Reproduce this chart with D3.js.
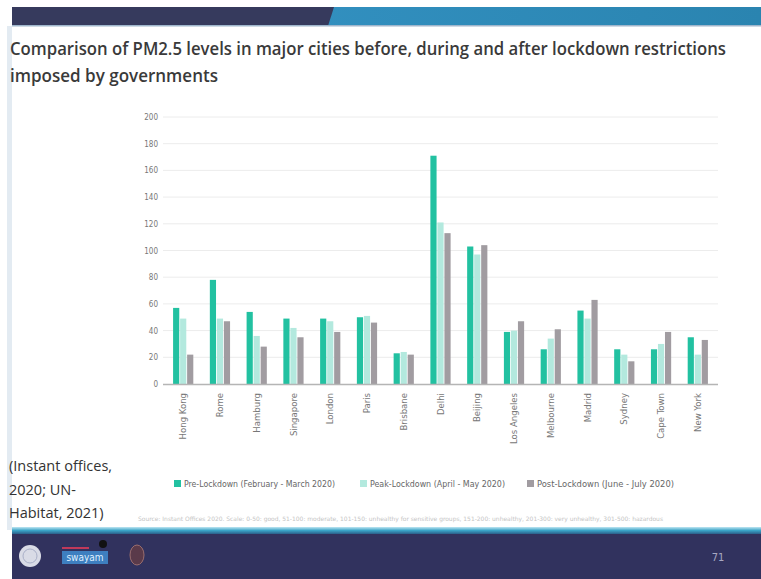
<!DOCTYPE html>
<html>
<head>
<meta charset="utf-8">
<script src="https://cdn.jsdelivr.net/npm/d3@7"></script>
<style>
  html, body { margin: 0; padding: 0; background: #fff; }
  svg { display: block; }
</style>
</head>
<body>
<svg id="chart"></svg>
<script>
(function (d3) {
  'use strict';

  // data
  const cities = ['Hong Kong', 'Rome', 'Hamburg', 'Singapore', 'London', 'Paris', 'Brisbane',
    'Delhi', 'Beijing', 'Los Angeles', 'Melbourne', 'Madrid', 'Sydney', 'Cape Town', 'New York'];
  const preLockdown  = [57, 78, 54, 49, 49, 50, 23, 171, 103, 39, 26, 55, 26, 26, 35];
  const peakLockdown = [49, 49, 36, 42, 47, 51, 24, 121, 97, 40, 34, 49, 22, 30, 22];
  const postLockdown = [22, 47, 28, 35, 39, 46, 22, 113, 104, 47, 41, 63, 17, 39, 33];
  const seriesNames = ['Pre-Lockdown (February - March 2020)', 'Peak-Lockdown (April - May 2020)',
    'Post-Lockdown (June - July 2020)'];
  const yTicks = [0, 20, 40, 60, 80, 100, 120, 140, 160, 180, 200];

  const colors = ['#22c1a1', '#b3e9de', '#a19ca1'];
  const seriesValues = [preLockdown, peakLockdown, postLockdown];

  const width = 761, height = 579;
  const svg = d3.select('#chart').attr('width', width).attr('height', height);
  const condensed = '"DejaVu Sans Condensed", "Liberation Sans Narrow", sans-serif';

  // slide frame
  const defs = svg.append('defs');
  const topGrad = defs.append('linearGradient').attr('id', 'topGrad');
  topGrad.append('stop').attr('offset', '0%').attr('stop-color', '#3797c9');
  topGrad.append('stop').attr('offset', '100%').attr('stop-color', '#2a84b0');
  const lineGrad = defs.append('linearGradient').attr('id', 'lineGrad')
    .attr('x1', 0).attr('y1', 0).attr('x2', 0).attr('y2', 1);
  lineGrad.append('stop').attr('offset', '0%').attr('stop-color', '#bfe6f2');
  lineGrad.append('stop').attr('offset', '50%').attr('stop-color', '#3aa3c7');
  lineGrad.append('stop').attr('offset', '100%').attr('stop-color', '#2b5f8a');

  svg.append('rect').attr('x', 7).attr('y', 26).attr('width', 5).attr('height', 504).attr('fill', '#e3ebf2');
  svg.append('rect').attr('x', 12).attr('y', 7).attr('width', width - 12).attr('height', 19).attr('fill', 'url(#topGrad)');
  svg.append('path').attr('d', 'M12,7 L334,7 L328,26 L12,26 Z').attr('fill', '#363a5d');
  svg.append('rect').attr('x', 12).attr('y', 25).attr('width', width - 12).attr('height', 1.5).attr('fill', '#9fb6cc');

  svg.append('rect').attr('x', 12).attr('y', 527).attr('width', width - 12).attr('height', 7).attr('fill', 'url(#lineGrad)');
  svg.append('rect').attr('x', 12).attr('y', 534).attr('width', width - 12).attr('height', 45).attr('fill', '#31325e');

  // logos (simple marks)
  svg.append('circle').attr('cx', 30).attr('cy', 556).attr('r', 11).attr('fill', '#d9dbe6');
  svg.append('circle').attr('cx', 30).attr('cy', 556).attr('r', 7).attr('fill', 'none').attr('stroke', '#aab0c8');
  svg.append('rect').attr('x', 62).attr('y', 547).attr('width', 27).attr('height', 2).attr('fill', '#c0395a');
  svg.append('circle').attr('cx', 103).attr('cy', 544).attr('r', 4).attr('fill', '#111');
  svg.append('rect').attr('x', 62).attr('y', 551).attr('width', 46).attr('height', 13).attr('fill', '#3e7fc0');
  svg.append('text').attr('x', 85).attr('y', 561).attr('text-anchor', 'middle')
    .attr('font-family', condensed).attr('font-size', 10).attr('fill', '#dfefff').text('swayam');
  svg.append('ellipse').attr('cx', 137).attr('cy', 555).attr('rx', 7).attr('ry', 10)
    .attr('fill', '#5a3a4a').attr('stroke', '#9b6e6e');
  svg.append('text').attr('x', 718).attr('y', 561).attr('text-anchor', 'middle')
    .attr('font-family', condensed).attr('font-size', 11).attr('fill', '#a8a9c2').text('71');

  // title
  const titleFont = '"Open Sans", sans-serif';
  svg.append('text').attr('x', 10).attr('y', 55)
    .attr('font-family', titleFont).attr('font-weight', 600).attr('font-size', 17.5)
    .attr('fill', '#3a3a3a').attr('textLength', 716).attr('lengthAdjust', 'spacingAndGlyphs')
    .text('Comparison of PM2.5 levels in major cities before, during and after lockdown restrictions');
  svg.append('text').attr('x', 10).attr('y', 82)
    .attr('font-family', titleFont).attr('font-weight', 600).attr('font-size', 17.5)
    .attr('fill', '#3a3a3a').attr('textLength', 208).attr('lengthAdjust', 'spacingAndGlyphs')
    .text('imposed by governments');

  // citation on the left
  const cite = ['(Instant offices,', '2020; UN-', 'Habitat, 2021)'];
  svg.append('g').selectAll('text').data(cite).enter().append('text')
    .attr('x', 9).attr('y', (d, i) => 471 + i * 23.5)
    .attr('font-family', titleFont).attr('font-size', 14.5).attr('fill', '#333')
    .text(d => d);

  // chart
  const x0 = 163, x1 = 718, yBase = 384, yTop = 117;
  const x = d3.scaleBand().domain(cities).range([165, 716]).paddingInner(0.45).paddingOuter(0.22);
  const xs = d3.scaleBand().domain(d3.range(3)).range([0, x.bandwidth()]).paddingInner(0.12);
  const y = d3.scaleLinear().domain([0, 200]).range([yBase, yTop]);

  const g = svg.append('g');

  g.append('g').selectAll('line').data(yTicks.slice(1)).enter().append('line')
    .attr('x1', x0).attr('x2', x1)
    .attr('y1', d => y(d)).attr('y2', d => y(d))
    .attr('stroke', '#ececec').attr('stroke-width', 1);

  const yAxis = g.append('g').attr('transform', `translate(${x0},0)`)
    .call(d3.axisLeft(y).tickValues(yTicks).tickSize(0).tickPadding(5));
  yAxis.select('.domain').remove();
  yAxis.selectAll('text').attr('font-family', condensed).attr('font-size', 8).attr('fill', '#777');

  const groups = g.append('g').selectAll('g').data(cities).enter().append('g')
    .attr('transform', d => `translate(${x(d)},0)`);
  groups.selectAll('rect').data((d, i) => seriesValues.map((s, k) => ({ k, v: s[i] })))
    .enter().append('rect')
    .attr('x', d => xs(d.k))
    .attr('width', xs.bandwidth())
    .attr('y', d => y(d.v))
    .attr('height', d => yBase - y(d.v))
    .attr('fill', d => colors[d.k]);

  const xAxis = g.append('g').attr('transform', `translate(0,${yBase})`)
    .call(d3.axisBottom(x).tickSize(0).tickPadding(0));
  xAxis.select('.domain').attr('d', `M${x0},0.5H${x1}`).attr('stroke', '#b5b5b5').attr('stroke-width', 1.5);
  xAxis.selectAll('text')
    .attr('transform', 'translate(0,9) rotate(-90)')
    .attr('text-anchor', 'end').attr('dy', '0.32em').attr('y', 0)
    .attr('font-family', condensed).attr('font-size', 9.5).attr('fill', '#777');

  // legend
  const legendX = [174, 360, 527];
  const legendW = [151, 135, 137];
  const legend = svg.append('g').selectAll('g').data(seriesNames).enter().append('g')
    .attr('transform', (d, i) => `translate(${legendX[i]},480)`);
  legend.append('rect').attr('width', 7).attr('height', 7).attr('fill', (d, i) => colors[i]);
  legend.append('text').attr('x', 10).attr('y', 7)
    .attr('font-family', condensed).attr('font-size', 9).attr('fill', '#666')
    .attr('textLength', (d, i) => legendW[i]).attr('lengthAdjust', 'spacingAndGlyphs')
    .text(d => d);

  // source note
  svg.append('text').attr('x', 138).attr('y', 521)
    .attr('font-family', condensed).attr('font-size', 6).attr('fill', '#c4c4c4')
    .attr('textLength', 525).attr('lengthAdjust', 'spacingAndGlyphs')
    .text('Source: Instant Offices 2020. Scale: 0-50: good, 51-100: moderate, 101-150: unhealthy for sensitive groups, 151-200: unhealthy, 201-300: very unhealthy, 301-500: hazardous');

}(d3));
</script>
</body>
</html>
